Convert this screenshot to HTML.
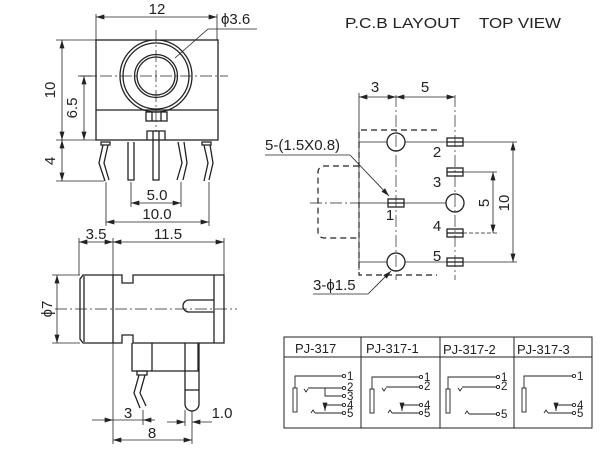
<!DOCTYPE html>
<html><head><meta charset="utf-8"><style>
html,body{margin:0;padding:0;background:#fff}
svg{display:block}
text{font-family:"Liberation Sans",sans-serif;fill:#222}
</style></head><body>
<svg width="601" height="453" viewBox="0 0 601 453" xmlns="http://www.w3.org/2000/svg">
<defs>
<marker id="a" viewBox="0 0 10 6" refX="10" refY="3" markerWidth="10" markerHeight="5" orient="auto-start-reverse" markerUnits="userSpaceOnUse"><path d="M0,0L10,3L0,6z" fill="#222"/></marker>
</defs>
<g stroke="#222" fill="none">
<g stroke-width="1.3">
<rect x="96" y="40" width="122" height="100"/>
<line x1="96" y1="110" x2="218" y2="110"/>
<circle cx="156" cy="76" r="36"/><circle cx="156" cy="76" r="33"/>
<circle cx="156" cy="76" r="21.5"/><circle cx="156" cy="76" r="19"/>
<rect x="146" y="112" width="21" height="9"/>
<line x1="152" y1="112" x2="152" y2="121"/><line x1="161" y1="112" x2="161" y2="121"/>
<path d="M147,140V131H165V140"/>
<path d="M101,142h9v3h-9z"/><path d="M103,145 L99,163 L105,181 M108,145 L104,163 L109,180"/>
<path d="M128,142V180H134V142"/>
<path d="M153,131V180H159V131"/>
<path d="M178,142 L182,163 L177,180 M184,142 L187,163 L183,180"/>
<path d="M202,142h9v3h-9z"/><path d="M204,145 L208,163 L204,181 M210,145 L213,163 L209,180"/>
</g>
<g stroke-width="0.7" stroke-dasharray="12,3,2,3">
<line x1="156" y1="30" x2="156" y2="132"/><line x1="80" y1="76" x2="228" y2="76"/>
</g>
<g stroke-width="0.8">
<line x1="96" y1="14" x2="96" y2="40"/><line x1="217" y1="14" x2="217" y2="40"/>
<line x1="96" y1="17" x2="217" y2="17" marker-start="url(#a)" marker-end="url(#a)"/>
<path d="M175,58 L208,29 H257"/>
<line x1="56" y1="40" x2="96" y2="40"/><line x1="56" y1="140" x2="96" y2="140"/><line x1="78" y1="76" x2="96" y2="76"/><line x1="56" y1="181" x2="104" y2="181"/>
<line x1="62" y1="40" x2="62" y2="140" marker-start="url(#a)" marker-end="url(#a)"/>
<line x1="84" y1="76" x2="84" y2="140" marker-start="url(#a)" marker-end="url(#a)"/>
<line x1="62" y1="140" x2="62" y2="181" marker-start="url(#a)" marker-end="url(#a)"/>
<line x1="131" y1="182" x2="131" y2="207"/><line x1="181" y1="182" x2="181" y2="207"/>
<line x1="106" y1="182" x2="106" y2="226"/><line x1="209" y1="182" x2="209" y2="226"/>
<line x1="131" y1="203" x2="181" y2="203" marker-start="url(#a)" marker-end="url(#a)"/>
<line x1="106" y1="222" x2="209" y2="222" marker-start="url(#a)" marker-end="url(#a)"/>
</g>
<g stroke-width="1.3">
<path d="M83,275H113V343H83L80,339V279Z"/><line x1="84" y1="276" x2="84" y2="342"/>
<path d="M113,275H122V283H133V275H224V343H133V335H122V343H113"/>
<line x1="214" y1="275" x2="214" y2="343"/>
<path d="M214,300H189A6,6 0 0 0 189,312H214"/>
<path d="M132,343V371H198V343"/><line x1="152" y1="343" x2="152" y2="371"/>
<path d="M137,371h10v4h-10z"/><path d="M139,375 L134,393 L140,408 M145,375 L140,393 L146,406"/>
<path d="M185,343V404a7,7 0 0 0 14,0V343"/><line x1="185" y1="390" x2="199" y2="390"/>
</g>
<g stroke-width="0.7" stroke-dasharray="12,3,2,3"><line x1="55" y1="309" x2="237" y2="309"/></g>
<g stroke-width="0.8">
<line x1="79" y1="238" x2="79" y2="275"/><line x1="113" y1="238" x2="113" y2="444"/><line x1="224" y1="238" x2="224" y2="275"/>
<line x1="79" y1="242" x2="113" y2="242" marker-start="url(#a)" marker-end="url(#a)"/>
<line x1="113" y1="242" x2="224" y2="242" marker-start="url(#a)" marker-end="url(#a)"/>
<line x1="52" y1="275" x2="80" y2="275"/><line x1="52" y1="343" x2="80" y2="343"/>
<line x1="57" y1="275" x2="57" y2="343" marker-start="url(#a)" marker-end="url(#a)"/>
<line x1="143" y1="410" x2="143" y2="425"/><line x1="192" y1="410" x2="192" y2="444"/><line x1="185" y1="410" x2="185" y2="426"/>
<line x1="92" y1="420" x2="113" y2="420" marker-end="url(#a)"/><line x1="155" y1="420" x2="143" y2="420" marker-end="url(#a)"/><line x1="113" y1="420" x2="143" y2="420"/>
<line x1="113" y1="440" x2="192" y2="440" marker-start="url(#a)" marker-end="url(#a)"/>
<line x1="167" y1="422" x2="185" y2="422" marker-end="url(#a)"/><line x1="212" y1="422" x2="192" y2="422" marker-end="url(#a)"/>
</g>
<g stroke-width="1.2" stroke-dasharray="6,4">
<path d="M437,130H359V275H437"/>
<path d="M359,166H324a6,6 0 0 0 -6,6V232a6,6 0 0 0 6,6H359"/>
</g>
<g stroke-width="0.7" stroke-dasharray="12,3,2,3">
<line x1="396" y1="95" x2="396" y2="280"/><line x1="455" y1="95" x2="455" y2="280"/><line x1="310" y1="203" x2="359" y2="203"/>
</g>
<g stroke-width="0.8">
<line x1="359" y1="93" x2="359" y2="270"/>
<line x1="359" y1="97" x2="396" y2="97" marker-start="url(#a)" marker-end="url(#a)"/>
<line x1="396" y1="97" x2="455" y2="97" marker-start="url(#a)" marker-end="url(#a)"/>
<line x1="359" y1="142" x2="387" y2="142"/><line x1="405" y1="142" x2="447" y2="142"/><line x1="463" y1="142" x2="517" y2="142"/>
<line x1="359" y1="262" x2="387" y2="262"/><line x1="405" y1="262" x2="447" y2="262"/><line x1="463" y1="262" x2="517" y2="262"/>
<line x1="359" y1="203" x2="388" y2="203"/><line x1="404" y1="203" x2="446" y2="203"/>
<line x1="463" y1="172" x2="497" y2="172"/><line x1="463" y1="233" x2="497" y2="233" stroke-dasharray="4,2"/>
<line x1="493" y1="172" x2="493" y2="233" marker-start="url(#a)" marker-end="url(#a)"/>
<line x1="513" y1="142" x2="513" y2="262" marker-start="url(#a)" marker-end="url(#a)"/>
<path d="M265,155H350L389,196" marker-end="url(#a)"/>
<path d="M313,294H368L391,271" marker-end="url(#a)"/>
</g>
<g stroke-width="1.3">
<circle cx="396" cy="142" r="9"/><circle cx="396" cy="262" r="9"/><circle cx="455" cy="203" r="9"/>
<rect x="388" y="199" width="16" height="8"/><line x1="388" y1="203" x2="404" y2="203"/>
<rect x="447" y="138" width="16" height="8"/><line x1="447" y1="142" x2="463" y2="142"/>
<rect x="447" y="168" width="16" height="8"/><line x1="447" y1="172" x2="463" y2="172"/>
<rect x="447" y="229" width="16" height="8"/><line x1="447" y1="233" x2="463" y2="233"/>
<rect x="447" y="258" width="16" height="8"/><line x1="447" y1="262" x2="463" y2="262"/>
</g>
<g stroke-width="1">
<rect x="284" y="337" width="308" height="91"/>
<line x1="284" y1="357" x2="592" y2="357"/>
<line x1="361" y1="337" x2="361" y2="428"/><line x1="440" y1="337" x2="440" y2="428"/><line x1="514" y1="337" x2="514" y2="428"/>
</g>
<g stroke-width="0.9">
<rect x="293" y="388" width="4" height="24"/>
<path d="M295,388V376H342"/><path d="M304,389l2,3l2,-3M308,388H342"/><path d="M325,388V396H342"/>
<path d="M342,405H325V411" marker-end="url(#a)"/><path d="M311,413l2,-3l2,3M315,413H342"/>
<circle cx="344" cy="376" r="1.6"/><circle cx="344" cy="388" r="1.6"/><circle cx="344" cy="396" r="1.6"/><circle cx="344" cy="405" r="1.6"/><circle cx="344" cy="413" r="1.6"/>
<rect x="370" y="389" width="4" height="24"/>
<path d="M372,389V377H419"/><path d="M382,388l2,3l2,-3M386,387H419"/>
<path d="M419,405H402V411" marker-end="url(#a)"/><path d="M388,413l2,-3l2,3M392,413H419"/>
<circle cx="421" cy="377" r="1.6"/><circle cx="421" cy="387" r="1.6"/><circle cx="421" cy="405" r="1.6"/><circle cx="421" cy="413" r="1.6"/>
<rect x="446" y="389" width="4" height="24"/>
<path d="M448,389V377H496"/><path d="M458,388l2,3l2,-3M462,387H496"/>
<path d="M465,414l2,-3l2,3M469,414H496"/>
<circle cx="498" cy="377" r="1.6"/><circle cx="498" cy="387" r="1.6"/><circle cx="498" cy="414" r="1.6"/>
<rect x="522" y="388" width="4" height="24"/>
<path d="M524,388V376H572"/>
<path d="M572,405H556V411" marker-end="url(#a)"/><path d="M544,413l2,-3l2,3M548,413H572"/>
<circle cx="574" cy="376" r="1.6"/><circle cx="574" cy="405" r="1.6"/><circle cx="574" cy="413" r="1.6"/>
</g>
</g>
<g font-size="15">
<text x="157" y="14" text-anchor="middle">12</text>
<text x="221" y="24">ϕ3.6</text>
<text transform="translate(55,90) rotate(-90)" text-anchor="middle">10</text>
<text transform="translate(77,108) rotate(-90)" text-anchor="middle">6.5</text>
<text transform="translate(55,161) rotate(-90)" text-anchor="middle">4</text>
<text x="157" y="200" text-anchor="middle">5.0</text>
<text x="157" y="219" text-anchor="middle">10.0</text>
<text x="96" y="239" text-anchor="middle">3.5</text>
<text x="168" y="239" text-anchor="middle">11.5</text>
<text transform="translate(52,309) rotate(-90)" text-anchor="middle">ϕ7</text>
<text x="128" y="418" text-anchor="middle">3</text>
<text x="152" y="438" text-anchor="middle">8</text>
<text x="222" y="418" text-anchor="middle">1.0</text>
<text x="375" y="92" text-anchor="middle">3</text>
<text x="425" y="92" text-anchor="middle">5</text>
<text x="265" y="150">5-(1.5X0.8)</text>
<text x="313" y="290">3-ϕ1.5</text>
<text x="437" y="157" text-anchor="middle">2</text>
<text x="437" y="187" text-anchor="middle">3</text>
<text x="390" y="220" text-anchor="middle">1</text>
<text x="437" y="231" text-anchor="middle">4</text>
<text x="437" y="261" text-anchor="middle">5</text>
<text transform="translate(489,203) rotate(-90)" text-anchor="middle">5</text>
<text transform="translate(509,203) rotate(-90)" text-anchor="middle">10</text>
</g>
<text x="345" y="28" font-size="15" textLength="115" lengthAdjust="spacingAndGlyphs">P.C.B LAYOUT</text>
<text x="479" y="28" font-size="15" textLength="82" lengthAdjust="spacingAndGlyphs">TOP VIEW</text>
<g font-size="13">
<text x="295" y="353">PJ-317</text><text x="366" y="353">PJ-317-1</text><text x="443" y="354">PJ-317-2</text><text x="517" y="354">PJ-317-3</text>
</g>
<g font-size="11.5">
<text x="347" y="380">1</text><text x="347" y="391">2</text><text x="347" y="400">3</text><text x="347" y="409">4</text><text x="347" y="417">5</text>
<text x="424" y="381">1</text><text x="424" y="390">2</text><text x="424" y="409">4</text><text x="424" y="417">5</text>
<text x="501" y="381">1</text><text x="501" y="390">2</text><text x="501" y="418">5</text>
<text x="577" y="380">1</text><text x="577" y="409">4</text><text x="577" y="417">5</text>
</g>
</svg>
</body></html>
